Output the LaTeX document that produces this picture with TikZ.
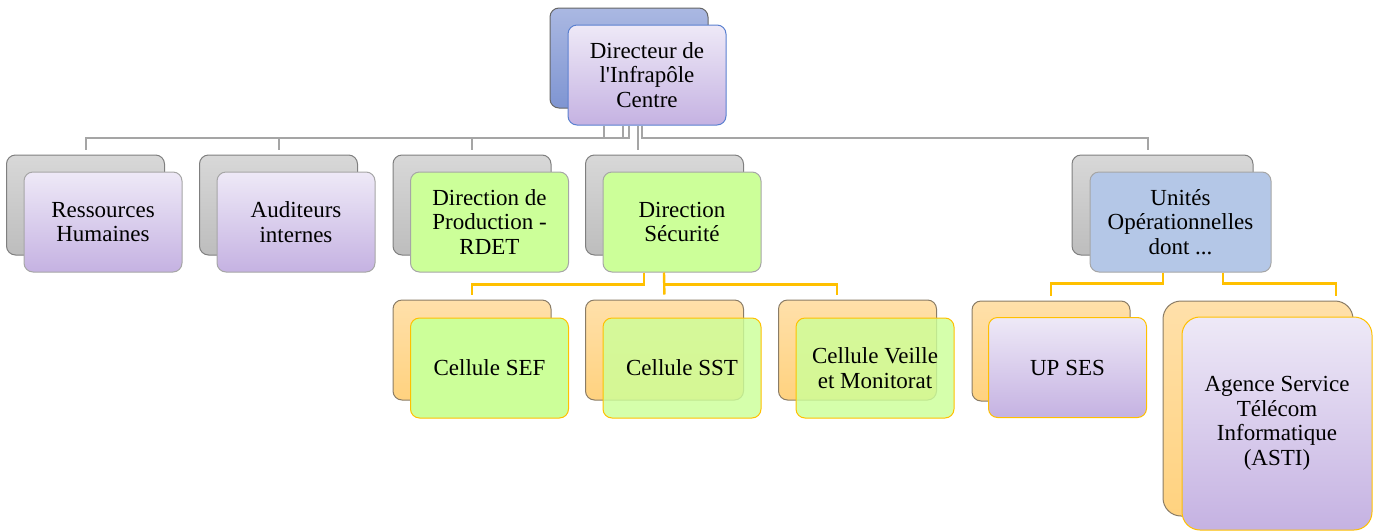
\documentclass[tikz,border=0pt]{standalone}
\usepackage{fontspec}
\setmainfont{Liberation Serif}[Ligatures=TeXOff]
\definecolor{grayTop}{HTML}{D8D8D8}
\definecolor{grayBot}{HTML}{BDBDBD}
\definecolor{grayEdge}{HTML}{7F7F7F}
\definecolor{lavTop}{HTML}{EEE9F7}
\definecolor{lavBot}{HTML}{C5B2E2}
\definecolor{lightEdge}{HTML}{A6A6A6}
\definecolor{greenFill}{HTML}{CCFF99}
\definecolor{unitFill}{HTML}{B4C7E7}
\definecolor{blueTop}{HTML}{AAB8E2}
\definecolor{blueBot}{HTML}{7F95D2}
\definecolor{blueEdge}{HTML}{5A80D0}
\definecolor{orTop}{HTML}{FFE0AA}
\definecolor{orBot}{HTML}{FFD27F}
\definecolor{orEdge}{HTML}{8A7C66}
\definecolor{gold}{HTML}{FFC000}
\definecolor{connGray}{HTML}{A5A5A5}
\begin{document}
\begin{tikzpicture}[x=1pt,y=-1pt,
  box/.style={rounded corners=9pt, minimum width=158pt, minimum height=100pt,
    inner sep=0pt, align=center, font=\fontsize{23}{24.5}\selectfont, line width=1pt},
  grayback/.style={box, draw=grayEdge, top color=grayTop, bottom color=grayBot},
  blueback/.style={box, draw=grayEdge!80!black, top color=blueTop, bottom color=blueBot},
  orangeback/.style={box, draw=orEdge, top color=orTop, bottom color=orBot},
  lavbox/.style={box, draw=lightEdge, top color=lavTop, bottom color=lavBot},
  greenbox/.style={box, draw=lightEdge, fill=greenFill},
  unitbox/.style={box, draw=lightEdge, fill=unitFill},
  gconn/.style={draw=connGray, line width=2pt, shorten >=5pt},
  oconn/.style={draw=gold, line width=2.4pt, shorten >=5pt}
]
\useasboundingbox (0,0) rectangle (1374,531);

% top
\node[blueback] (topB) at (629,58) {};
\node[lavbox, draw=blueEdge] (top) at (647,75) {Directeur de\\l'Infrapôle\\Centre};

% level 2
\node[grayback] (rhB) at (85.5,205) {};
\node[lavbox] (rh) at (103,222) {Ressources\\Humaines};
\node[grayback] (audB) at (278.5,205) {};
\node[lavbox] (aud) at (296,222) {Auditeurs\\internes};
\node[grayback] (dpB) at (472,205) {};
\node[greenbox] (dp) at (489.5,222) {Direction de\\Production -\\RDET};
\node[grayback] (dsB) at (664.5,205) {};
\node[greenbox] (ds) at (682,222) {Direction\\Sécurité};
\node[grayback, minimum width=181pt] (unB) at (1162.5,205) {};
\node[unitbox, minimum width=181pt] (un) at (1180.5,222) {Unités\\Opérationnelles\\dont ...};

% level 3
\node[orangeback] (sefB) at (472,350) {};
\node[greenbox, draw=gold] (sef) at (489.5,368) {Cellule SEF};
\node[orangeback] (sstB) at (664.5,350) {};
\node[greenbox, draw=gold, fill opacity=0.82, text opacity=1] (sst) at (682,368) {Cellule SST};
\node[orangeback] (cvB) at (857.5,350) {};
\node[greenbox, draw=gold, fill opacity=0.82, text opacity=1] (cv) at (875,368) {Cellule Veille\\et Monitorat};
\node[orangeback] (upB) at (1051,351) {};
\node[lavbox, draw=gold] (up) at (1067.5,367.5) {UP SES};
\node[orangeback, minimum width=190pt, minimum height=215pt, rounded corners=18pt] (astiB) at (1258,408.5) {};
\node[lavbox, draw=gold, minimum width=190pt, minimum height=213pt, rounded corners=18pt] (asti) at (1277,423.5) {Agence Service\\Télécom\\Informatique\\(ASTI)};

% gray connectors
\draw[gconn] ([xshift=-43pt]top.south) -- ++(0,12) -| (rhB.north);
\draw[gconn] ([xshift=-24pt]top.south) -- ++(0,12) -| (audB.north);
\draw[gconn] ([xshift=-18pt]top.south) -- ++(0,12) -| (dpB.north);
\draw[gconn] ([xshift=-9pt]top.south) -- ([xshift=-26.5pt]dsB.north);
\draw[gconn] ([xshift=-5pt]top.south) -- ++(0,12) -| ([xshift=-14.5pt]unB.north);

% orange connectors
\draw[oconn] ([xshift=-38pt]ds.south) -- ++(0,12) -| (sefB.north);
\draw[oconn] ([xshift=-18pt]ds.south) -- (sstB.north);
\draw[oconn] ([xshift=-18pt]ds.south) -- ++(0,12) -| ([xshift=-20.5pt]cvB.north);
\draw[oconn] ([xshift=-17.5pt]un.south) -- ++(0,11) -| (upB.north);
\draw[oconn] ([xshift=42.5pt]un.south) -- ++(0,11) -| ([xshift=78pt]astiB.north);
\end{tikzpicture}
\end{document}
